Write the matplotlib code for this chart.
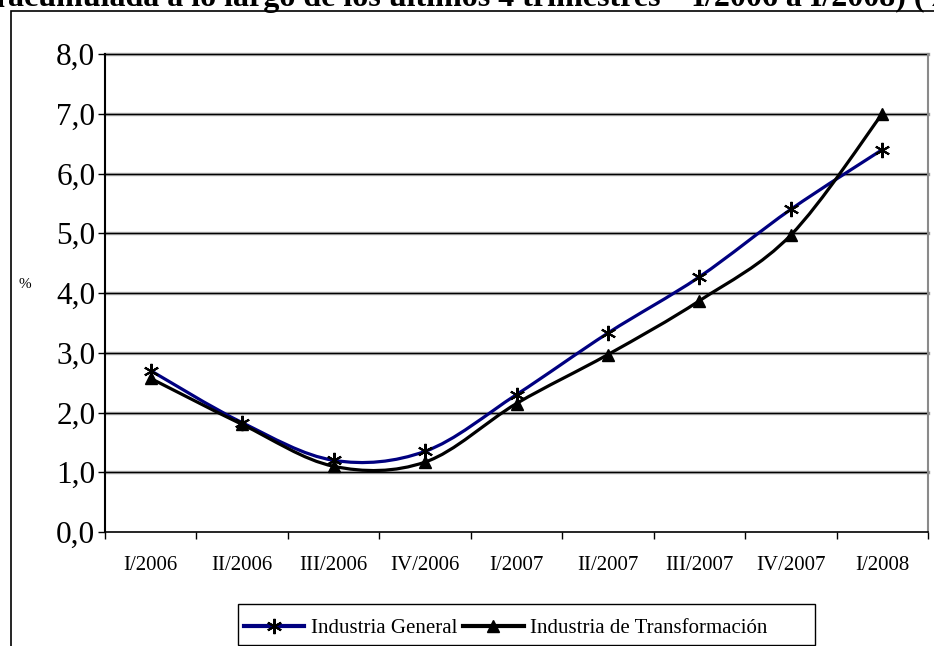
import numpy as np
import matplotlib
matplotlib.use("Agg")
import matplotlib.pyplot as plt
from matplotlib.path import Path
from matplotlib.patches import PathPatch, Rectangle
from matplotlib.lines import Line2D
from matplotlib.ticker import FuncFormatter

plt.rcParams['font.family'] = ['Liberation Serif', 'DejaVu Serif']

trimestres = ['I/2006', 'II/2006', 'III/2006', 'IV/2006', 'I/2007',
              'II/2007', 'III/2007', 'IV/2007', 'I/2008']
ind_general = [2.70, 1.83, 1.20, 1.35, 2.30, 3.33, 4.27, 5.40, 6.40]
ind_transformacion = [2.57, 1.80, 1.10, 1.17, 2.15, 2.97, 3.87, 4.97, 7.00]

AZUL = '#000080'
W, H = 934, 646


def curva_suave(xs, ys):
    # curva tipo Excel: bezier cubica por cada tramo (catmull-rom)
    p = np.column_stack([xs, ys]).astype(float)
    p_ext = np.vstack([p[0], p, p[-1]])
    verts = [p[0]]
    codes = [Path.MOVETO]
    for i in range(1, len(p_ext) - 2):
        p0, p1, p2, p3 = p_ext[i - 1], p_ext[i], p_ext[i + 1], p_ext[i + 2]
        verts += [p1 + (p2 - p0) / 6, p2 - (p3 - p1) / 6, p2]
        codes += [Path.CURVE4] * 3
    return Path(verts, codes)


fig = plt.figure(figsize=(W / 100, H / 100), dpi=100)
ax = fig.add_axes([105 / W, 1 - 532 / H, (928 - 105) / W, (532 - 54) / H])

x = np.arange(len(trimestres))

# lineas de la cuadricula con sombra gris
for v in np.arange(1, 9):
    ax.axhline(v, color='#9a9a9a', lw=2.4, zorder=1, clip_on=False)
    ax.axhline(v, color='black', lw=0.8, zorder=1.1, clip_on=False)

for ys, color in [(ind_general, AZUL), (ind_transformacion, 'black')]:
    ax.add_patch(PathPatch(curva_suave(x, ys), fill=False, edgecolor=color,
                           lw=2.3, capstyle='round', joinstyle='round', zorder=3))

ax.plot(x, ind_general, ls='none', marker=(6, 2, 0), ms=11, mew=1.5,
        color='black', zorder=4)
ax.plot(x, ind_transformacion, ls='none', marker='^', ms=9, color='black',
        zorder=4)

ax.set_xlim(-0.5, len(trimestres) - 0.5)
ax.set_ylim(0, 8)
ax.set_yticks(np.arange(0, 9))
ax.yaxis.set_major_formatter(FuncFormatter(lambda v, pos: f'{v:.1f}'.replace('.', ',')))
ax.tick_params(axis='y', labelsize=22.5, length=5, width=1, direction='out', pad=2)

ax.set_xticks(np.arange(-0.5, len(trimestres)), labels=[])
ax.set_xticks(x, labels=trimestres, minor=True)
ax.tick_params(axis='x', which='major', length=5, width=1, direction='out')
ax.tick_params(axis='x', which='minor', length=0, labelsize=15, pad=17)

ax.spines['top'].set_visible(False)
ax.spines['right'].set_color('#8a8a8a')
ax.spines['right'].set_linewidth(1.5)
ax.spines['left'].set_linewidth(1.5)
ax.spines['bottom'].set_linewidth(1.2)

fig.text(25 / W, 1 - 284 / H, '%', fontsize=11, ha='center', va='center')

# titulo (recortado en el borde superior)
fig.text(5 / W, 1 - 6 / H, '(variación', fontsize=23, fontweight='bold',
         ha='right', va='baseline')
fig.text(8 / W, 1 - 6 / H,
         'acumulada a lo largo de los últimos 4 trimestres – I/2006 a I/2008) (%)',
         fontsize=23, fontweight='bold', ha='left', va='baseline')

# marco exterior
fig.patches.append(Rectangle((11 / W, -0.1), 1.2, 1 - 11 / H + 0.1,
                             transform=fig.transFigure, fill=False,
                             edgecolor='black', lw=1.2))

# caja de la leyenda
fig.patches.append(Rectangle((238 / W, 1 - 645 / H), (815 - 238) / W, (645 - 604) / H,
                             transform=fig.transFigure, facecolor='white',
                             edgecolor='black', lw=1.0))

handles = [
    Line2D([], [], color=AZUL, lw=3, marker=(6, 2, 0), ms=11, mew=1.5, mec='black'),
    Line2D([], [], color='black', lw=3, marker='^', ms=9),
]
leg = fig.legend(handles, ['Industria General', 'Industria de Transformación'],
                 loc='center left', bbox_to_anchor=(244 / W, 1 - 628 / H),
                 ncol=2, fontsize=15, frameon=False, borderaxespad=0,
                 handlelength=2.9, columnspacing=0.3, handletextpad=0.3,
                 borderpad=0)

fig.savefig('out.png', dpi=100)
